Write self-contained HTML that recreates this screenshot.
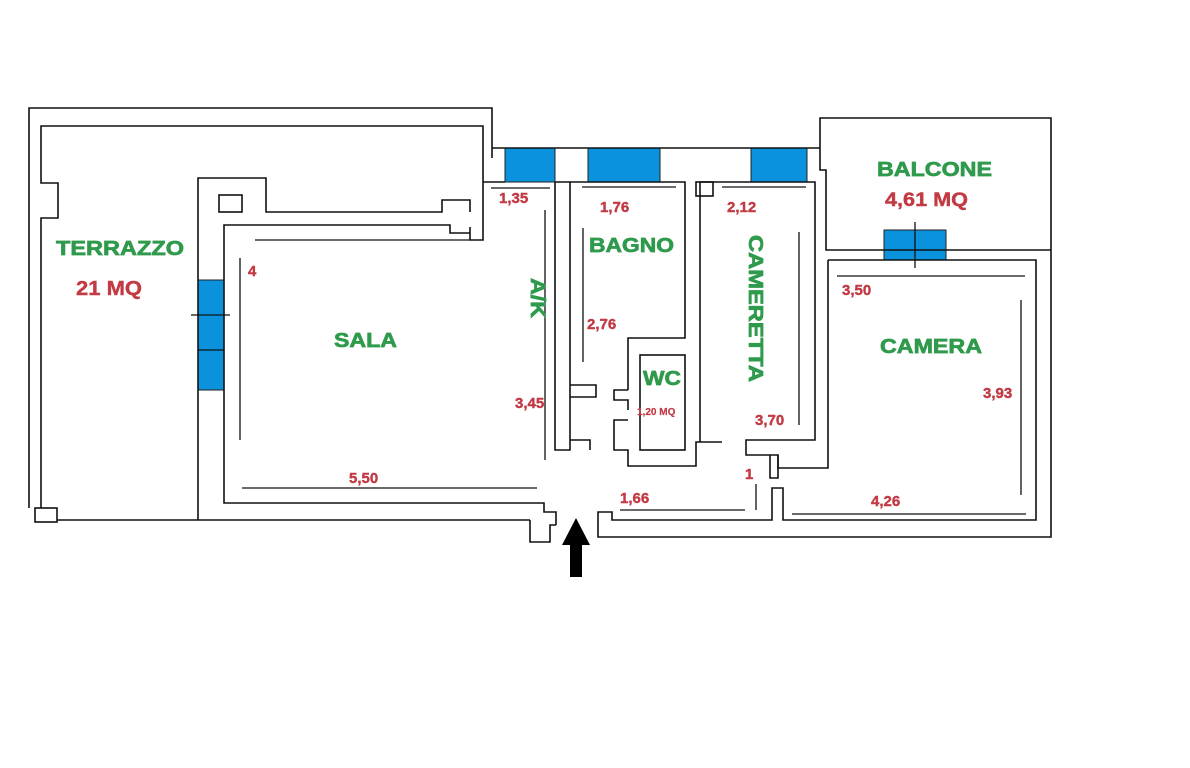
<!DOCTYPE html>
<html><head><style>
body{margin:0;background:#fff;}
svg{display:block}
.w{fill:none;stroke:#111;stroke-width:1.6}
.d{stroke:#111;stroke-width:1.3}
.g{fill:#2f9a4c;stroke:#2f9a4c;stroke-width:0.7;font-family:"Liberation Sans",sans-serif;font-weight:bold;font-size:20px}
.r{fill:#c23a44;stroke:#c23a44;stroke-width:0.4;font-family:"Liberation Sans",sans-serif;font-weight:bold;font-size:15px}
.b{fill:#0a93dc;stroke:#222;stroke-width:1}
</style></head><body>
<svg width="1190" height="768" viewBox="0 0 1190 768" xmlns="http://www.w3.org/2000/svg">
<rect width="1190" height="768" fill="#fff"/>
<!-- windows -->
<rect class="b" x="505" y="148" width="50" height="34"/>
<rect class="b" x="588" y="148" width="72" height="34"/>
<rect class="b" x="751" y="148" width="56" height="34"/>
<rect class="b" x="884" y="230" width="62" height="30"/>
<rect class="b" x="198" y="280" width="26" height="110"/>
<line class="d" x1="198" y1="350" x2="224" y2="350"/>
<line class="d" x1="191" y1="315" x2="230" y2="315"/>
<line class="d" x1="915" y1="222" x2="915" y2="268"/>
<!-- terrazzo outer -->
<polyline class="w" points="492,158 492,108 29,108 29,508"/>
<polyline class="w" points="483,182 483,126 41,126 41,183 58,183 58,218 41,218 41,508"/>
<rect class="w" x="35" y="508" width="22" height="14"/>
<line class="w" x1="57" y1="520" x2="530" y2="520"/>
<polyline class="w" points="530,520 530,542 550,542 550,525 556,525"/>
<!-- sala -->
<polyline class="w" points="198,520 198,178 266,178 266,212 442,212 442,200 470,200 470,212"/>
<polyline class="w" points="483,182 483,240 470,240 470,227"/>
<rect class="w" x="219" y="195" width="23" height="17"/>
<polyline class="w" points="224,478 224,225 450,225 450,233 470,233"/>
<polyline class="w" points="224,478 224,503 544,503 544,512 556,512 556,525"/>
<line class="d" x1="242" y1="488" x2="537" y2="488"/>
<line class="d" x1="240" y1="258" x2="240" y2="440"/>
<line class="d" x1="255" y1="240" x2="470" y2="240"/>
<!-- top corridor wall -->
<polyline class="w" points="492,148 820,148"/>
<line class="w" x1="483" y1="182" x2="505" y2="182"/>
<!-- kitchen right wall / bagno left -->
<polyline class="w" points="555,182 570,182 570,450 555,450 555,182"/>
<line class="d" x1="491" y1="188" x2="550" y2="188"/>
<line class="d" x1="545" y1="210" x2="545" y2="460"/>
<!-- bagno -->
<polyline class="w" points="570,182 685,182 685,338 628,338 628,390"/>
<polyline class="w" points="570,385 596,385 596,397 570,397"/>
<polyline class="w" points="570,440 590,440 590,450"/>
<polyline class="w" points="628,390 614,390 614,400 628,400 628,410"/>
<polyline class="w" points="628,420 614,420 614,450 628,450 628,466 696,466 696,442 722,442"/>
<rect class="w" x="640" y="355" width="45" height="95"/>
<line class="d" x1="582" y1="187" x2="676" y2="187"/>
<line class="d" x1="583" y1="228" x2="583" y2="362"/>
<!-- cameretta -->
<polyline class="w" points="700,182 815,182 815,440 746,440 746,455 778,455 778,468 828,468 828,260"/>
<polyline class="w" points="700,182 700,442"/>
<rect class="w" x="696" y="182" width="17" height="14"/>
<line class="d" x1="722" y1="187" x2="806" y2="187"/>
<line class="d" x1="799" y1="232" x2="799" y2="425"/>
<!-- balcone -->
<polyline class="w" points="820,148 820,118 1051,118 1051,537 598,537 598,512 612,512 612,520 772,520 772,488 783,488 783,520 1036,520 1036,260 828,260"/>
<polyline class="w" points="820,148 820,170 826,170 826,250 1051,250"/>
<polyline class="w" points="770,455 770,478 778,478 778,455"/>
<line class="d" x1="837" y1="276" x2="1025" y2="276"/>
<line class="d" x1="1021" y1="300" x2="1021" y2="495"/>
<line class="d" x1="792" y1="514" x2="1026" y2="514"/>
<line class="d" x1="620" y1="510" x2="745" y2="510"/>
<line class="d" x1="756" y1="484" x2="756" y2="510"/>
<!-- arrow -->
<polygon points="576,518 590,545 582,545 582,577 570,577 570,545 562,545" fill="#000"/>
<!-- labels -->
<text class="g" x="56" y="255" textLength="128" lengthAdjust="spacingAndGlyphs">TERRAZZO</text>
<text class="r" x="76" y="295" style="font-size:20px" textLength="66" lengthAdjust="spacingAndGlyphs">21 MQ</text>
<text class="g" x="334" y="347" textLength="63" lengthAdjust="spacingAndGlyphs">SALA</text>
<text class="g" x="589" y="252" textLength="85" lengthAdjust="spacingAndGlyphs">BAGNO</text>
<text class="g" x="643" y="385" textLength="38" lengthAdjust="spacingAndGlyphs">WC</text>
<text class="g" x="877" y="176" textLength="115" lengthAdjust="spacingAndGlyphs">BALCONE</text>
<text class="r" x="885" y="206" style="font-size:19px" textLength="83" lengthAdjust="spacingAndGlyphs">4,61 MQ</text>
<text class="g" x="880" y="353" textLength="102" lengthAdjust="spacingAndGlyphs">CAMERA</text>
<text class="g" transform="translate(531,278) rotate(90)" textLength="40" lengthAdjust="spacingAndGlyphs">A/K</text>
<text class="g" transform="translate(749,235) rotate(90)" textLength="147" lengthAdjust="spacingAndGlyphs">CAMERETTA</text>
<text class="r" x="248" y="276">4</text>
<text class="r" x="499" y="203">1,35</text>
<text class="r" x="600" y="212">1,76</text>
<text class="r" x="727" y="212">2,12</text>
<text class="r" x="587" y="329">2,76</text>
<text class="r" x="515" y="408">3,45</text>
<text class="r" x="637" y="415" style="font-size:10px;stroke-width:0.2">1,20 MQ</text>
<text class="r" x="755" y="425">3,70</text>
<text class="r" x="842" y="295">3,50</text>
<text class="r" x="983" y="398">3,93</text>
<text class="r" x="349" y="483">5,50</text>
<text class="r" x="620" y="503">1,66</text>
<text class="r" x="745" y="479">1</text>
<text class="r" x="871" y="506">4,26</text>
</svg>
</body></html>
